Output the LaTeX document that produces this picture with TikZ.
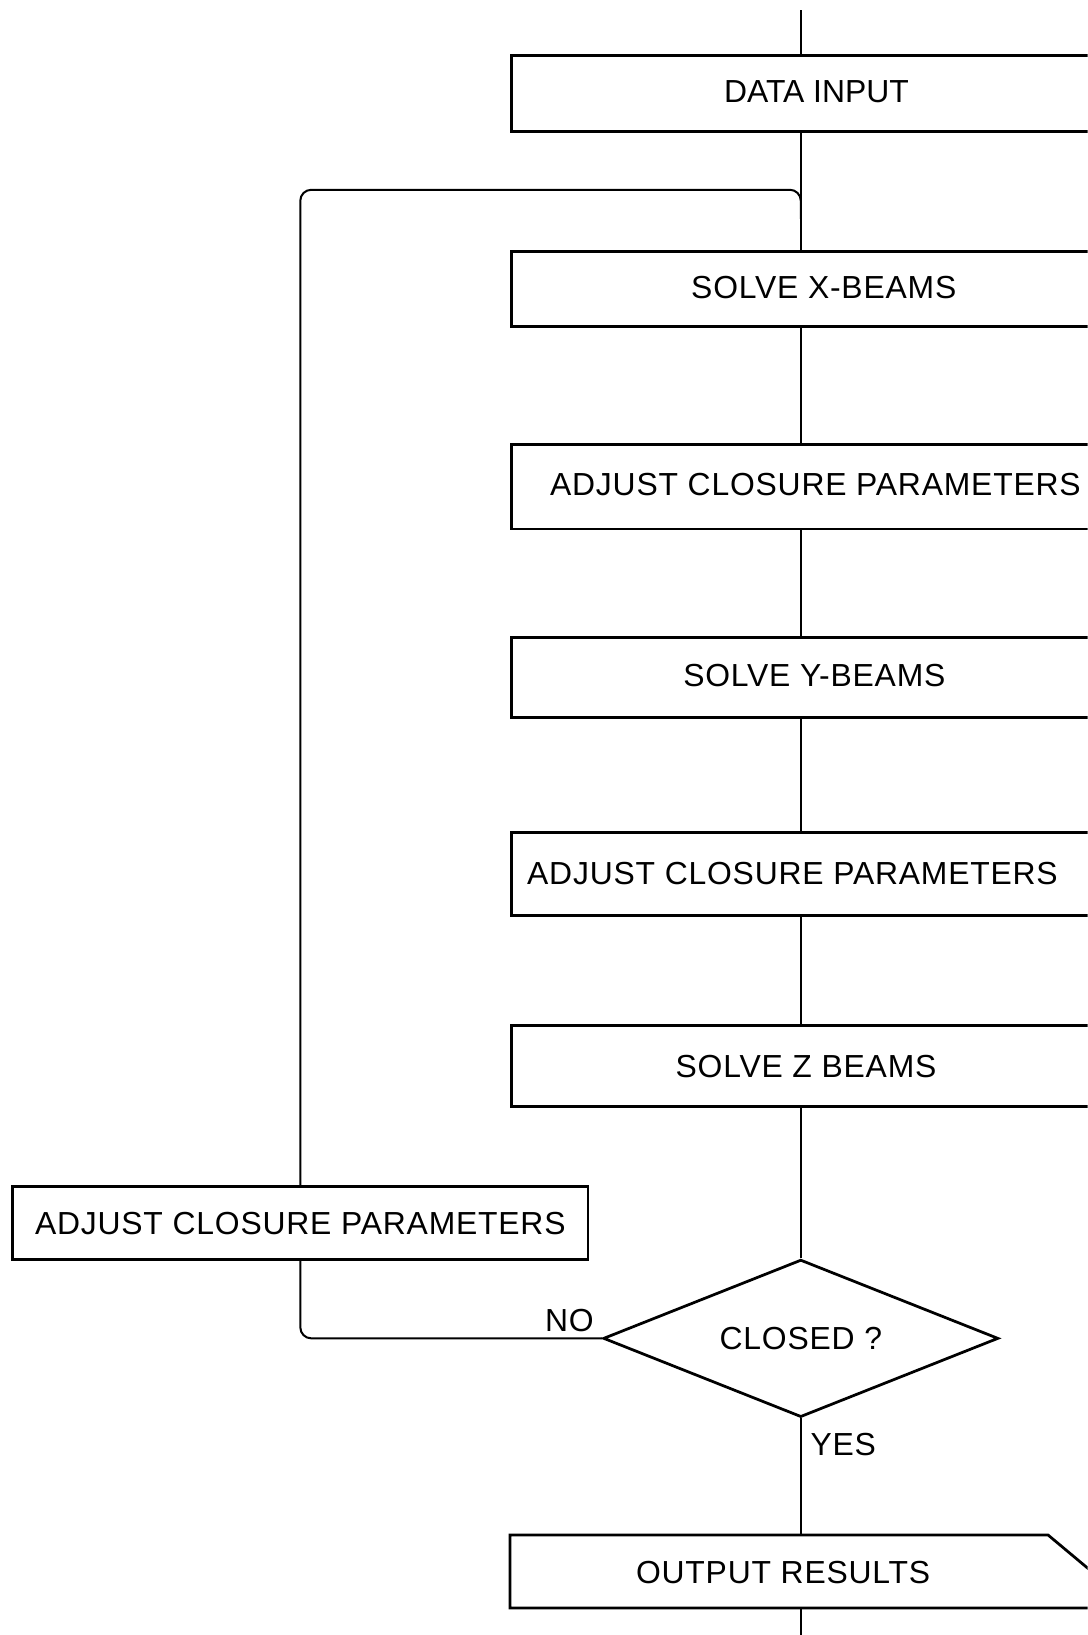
\documentclass[tikz,border=0pt]{standalone}
\usepackage{fontspec}
\newfontfamily\letterfont[LetterSpace=2.5]{Liberation Sans}
\newfontfamily\plainfont{Liberation Sans}
\usetikzlibrary{shapes.geometric}
\tikzset{
	block/.style={draw, line width=1.5pt, inner sep=0pt, anchor=north west, minimum width=12cm},
	txt/.style={inner sep=0pt, font=\letterfont\fontsize{17.4}{20}\selectfont},
	link/.style={line width=1.1pt},
}

\begin{document}
\begin{tikzpicture}[x=0.02cm, y=-0.02cm]
		%%%%% START %%%%%
		\useasboundingbox (0, 0) rectangle (1043, 1568);
		\clip (0, 0) rectangle (1043, 1568);
		
		\coordinate (trunk) at (768, 0);
		\coordinate (start) at (768, 10);
		\coordinate (finish) at (768, 1568);
		
		\node[block, minimum height=1.46cm] (input) at (489, 52) {};
		\node[txt, font=\plainfont\fontsize{17.4}{20}\selectfont] (inputtxt) at (783, 88) {DATA INPUT};
		
		\node[block, minimum height=1.44cm] (xsolve) at (489, 240) {};
		\node[txt] (xsolvetxt) at (790, 276) {SOLVE X-BEAMS};
		
		\node[block, minimum height=1.62cm] (adjone) at (489, 425) {};
		\node[txt] (adjonetxt) at (782, 465) {ADJUST CLOSURE PARAMETERS};
		
		\node[block, minimum height=1.54cm] (ysolve) at (489, 610) {};
		\node[txt] (ysolvetxt) at (781, 648) {SOLVE Y-BEAMS};
		
		\node[block, minimum height=1.6cm] (adjtwo) at (489, 797) {};
		\node[txt] (adjtwotxt) at (760, 838) {ADJUST CLOSURE PARAMETERS};
		
		\node[block, minimum height=1.56cm] (zsolve) at (489, 982) {};
		\node[txt] (zsolvetxt) at (773, 1023) {SOLVE Z BEAMS};
		
		\node[draw, diamond, aspect=2.5, line width=1.5pt, inner sep=0pt, minimum width=7.58cm, minimum height=3.02cm, txt] (closed) at (768, 1283.5) {CLOSED ?};
		\node[txt] (no) at (546, 1266) {NO};
		\node[txt, anchor=west] (yes) at (777, 1385) {YES};
		
		\node[block, anchor=center, minimum width=11.04cm, minimum height=1.4cm, txt] (adjthree) at (288, 1173) {ADJUST CLOSURE PARAMETERS};
		
		% output box with cut corner
		\draw[line width=1.5pt] (489, 1542) -- (489, 1472) -- (1005, 1472) -- (1060, 1518) -- (1060, 1542) -- cycle;
		\node[txt] (results) at (751, 1508) {OUTPUT RESULTS};
		\coordinate (resultstop) at (768, 1472);
		\coordinate (resultsbot) at (768, 1542);
		
		% trunk
		\draw[link] (start) -- (input.north -| trunk);
		\draw[link] (input.south -| trunk) -- (xsolve.north -| trunk);
		\draw[link] (xsolve.south -| trunk) -- (adjone.north -| trunk);
		\draw[link] (adjone.south -| trunk) -- (ysolve.north -| trunk);
		\draw[link] (ysolve.south -| trunk) -- (adjtwo.north -| trunk);
		\draw[link] (adjtwo.south -| trunk) -- (zsolve.north -| trunk);
		\draw[link] (zsolve.south -| trunk) -- (closed.north);
		\draw[link] (closed.south) -- (resultstop);
		\draw[link] (resultsbot) -- (finish);
		
		% loop back
		\coordinate (loop) at (768, 182);
		\coordinate (loopend) at (768, 210);
		\draw[link, rounded corners=6pt] (closed.west) -| (adjthree.south);
		\draw[link, rounded corners=6pt] (adjthree.north) |- (loop) -- (loopend);
		
		%%%%% END %%%%%
	\end{tikzpicture}
\end{document}
